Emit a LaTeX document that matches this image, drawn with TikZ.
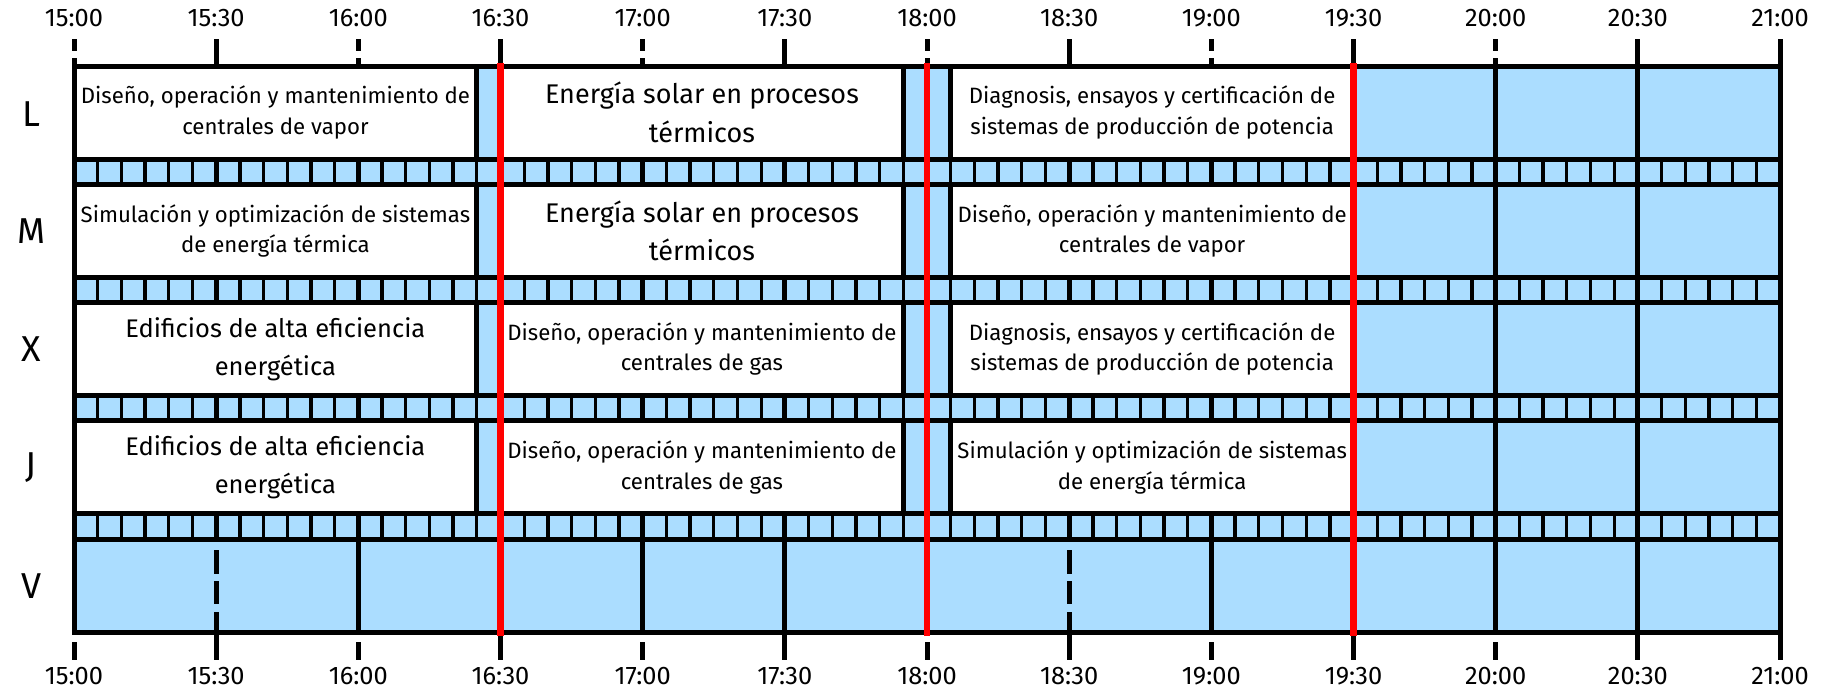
\documentclass[tikz,border=0pt]{standalone}
\usepackage{fontspec}
\setmainfont{Fira Sans}
\usepackage{tikz}
\definecolor{slot}{RGB}{171,221,255}
\tikzstyle{talk} = [rectangle, draw, fill=white, line width=5pt, align=center, inner sep=0pt, minimum width=402.8pt, minimum height=93pt, font=\fontsize{22.2}{30.5}\selectfont]
\tikzstyle{bigtalk} = [talk, font=\fontsize{27}{38.5}\selectfont]
\tikzstyle{midtalk} = [talk, font=\fontsize{25.5}{38.5}\selectfont]
\tikzstyle{gridline} = [draw, line width=5pt]
\tikzstyle{fivemin} = [draw, line width=3.3pt]
\tikzstyle{nowline} = [draw=red, line width=6.5pt]
\tikzstyle{hour} = [font=\fontsize{25.4}{25.4}\selectfont]
\tikzstyle{day} = [font=\fontsize{36}{36}\selectfont]

\begin{document}
\begin{tikzpicture}[x=4.739pt, y=-1pt, shift={(74pt,0pt)}]
    \useasboundingbox (-15.615,0) rectangle (368.64,696);
    \fill[slot] (0,66) rectangle (360,632.2);

    % 5 minute slots between the days
    \foreach \k [evaluate=\k as \ytop using 159+118.3*\k,
                 evaluate=\k as \ybot using 184.3+118.3*\k] in {0,...,3}
        \foreach \m in {5,10,...,355}
            \path[fivemin] (\m,\ytop) -- (\m,\ybot);

    % half hour lines
    \foreach \t in {0,60,120,180,240,300} {
        \path[gridline] (\t,39) -- (\t,51);
        \path[gridline] (\t,58) -- (\t,633);
        \path[gridline] (\t,642) -- (\t,660);
    }
    \foreach \t in {90,150,270,330,360}
        \path[gridline] (\t,39) -- (\t,660);
    \foreach \t in {30,210} {
        \path[gridline] (\t,39) -- (\t,542);
        \path[gridline] (\t,550) -- (\t,574);
        \path[gridline] (\t,581) -- (\t,604);
        \path[gridline] (\t,612) -- (\t,660);
    }

    % talks
    \node[talk] (l1) at (42.5,112.5) {Diseño, operación y mantenimiento de\\centrales de vapor};
    \node[bigtalk] (l2) at (132.5,112.5) {Energía solar en procesos\\térmicos};
    \node[talk] (l3) at (227.5,112.5) {Diagnosis, ensayos y certificación de\\sistemas de producción de potencia};

    \node[talk] (m1) at (42.5,230.8) {Simulación y optimización de sistemas\\de energía térmica};
    \node[bigtalk] (m2) at (132.5,230.8) {Energía solar en procesos\\térmicos};
    \node[talk] (m3) at (227.5,230.8) {Diseño, operación y mantenimiento de\\centrales de vapor};

    \node[midtalk] (x1) at (42.5,349.1) {Edificios de alta eficiencia\\energética};
    \node[talk] (x2) at (132.5,349.1) {Diseño, operación y mantenimiento de\\centrales de gas};
    \node[talk] (x3) at (227.5,349.1) {Diagnosis, ensayos y certificación de\\sistemas de producción de potencia};

    \node[midtalk] (j1) at (42.5,467.4) {Edificios de alta eficiencia\\energética};
    \node[talk] (j2) at (132.5,467.4) {Diseño, operación y mantenimiento de\\centrales de gas};
    \node[talk] (j3) at (227.5,467.4) {Simulación y optimización de sistemas\\de energía térmica};

    % day borders
    \foreach \k [evaluate=\k as \ytop using 66+118.3*\k,
                 evaluate=\k as \ybot using 159+118.3*\k] in {0,...,4} {
        \path[gridline, line cap=rect] (0,\ytop) -- (360,\ytop);
        \path[gridline, line cap=rect] (0,\ybot) -- (360,\ybot);
    }

    % breaks
    \foreach \t in {90,180,270}
        \path[nowline] (\t,63) -- (\t,635.5);

    % days and hours
    \node[day] (lunes) at (-9.07,114) {L};
    \node[day] (martes) at (-9.07,230.8) {M};
    \node[day] (miercoles) at (-9.07,349.1) {X};
    \node[day] (jueves) at (-9.07,467.4) {J};
    \node[day] (viernes) at (-9.07,585.7) {V};

    \foreach \t/\h in {0/15:00,30/15:30,60/16:00,90/16:30,120/17:00,150/17:30,180/18:00,
                       210/18:30,240/19:00,270/19:30,300/20:00,330/20:30,360/21:00} {
        \node[hour] (top\t) at (\t,18.5) {\h};
        \node[hour] (bot\t) at (\t,676) {\h};
    }
\end{tikzpicture}
\end{document}
